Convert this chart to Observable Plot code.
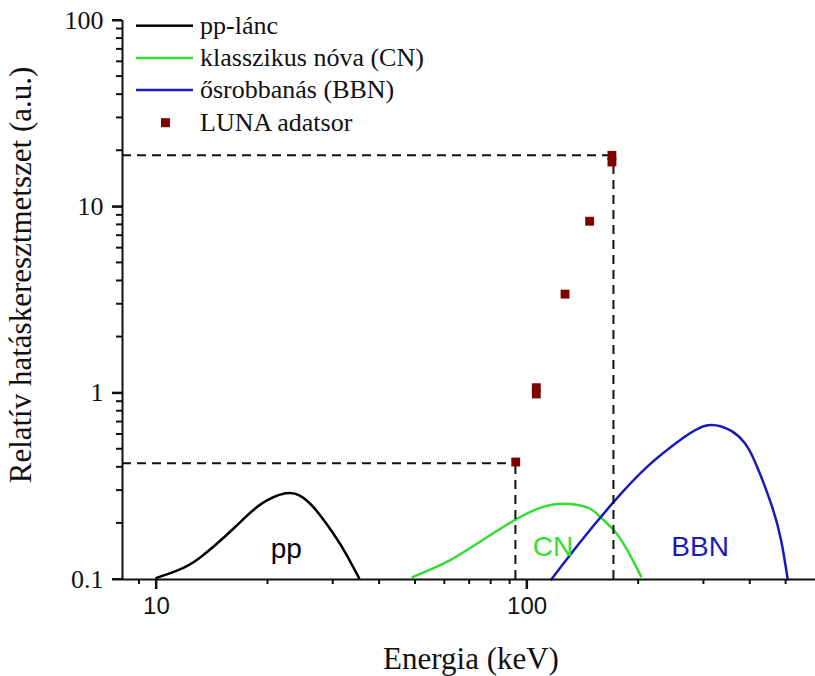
<!DOCTYPE html>
<html>
<head>
<meta charset="utf-8">
<script src="https://cdn.jsdelivr.net/npm/d3@7"></script>
<script src="https://cdn.jsdelivr.net/npm/@observablehq/plot@0.6"></script>
<style>
  html, body { margin: 0; padding: 0; background: white; color: #111; overflow: hidden; }
  #chart { width: 815px; height: 676px; }
</style>
</head>
<body>
<div id="chart"></div>
<script>
// ---- data ----
const xDomain = [8.1, 600];
const yDomain = [0.1, 100];
const xMajorTicks = [10, 100];
const xMinorTicks = [9, 20, 30, 40, 50, 60, 70, 80, 90, 200, 300, 400, 500];
const yMajorTicks = [0.1, 1, 10, 100];
const yMinorTicks = [0.2, 0.3, 0.4, 0.5, 0.6, 0.7, 0.8, 0.9, 2, 3, 4, 5, 6, 7, 8, 9, 20, 30, 40, 50, 60, 70, 80, 90];

const ppEnergy = [10, 11.4, 13.1, 16.2, 19.1, 22.3, 24.3, 26.6, 30.1, 32.5, 35.2];
const ppValue  = [0.102, 0.112, 0.131, 0.189, 0.253, 0.290, 0.283, 0.243, 0.175, 0.137, 0.102];

const cnEnergy = [49.1, 61.1, 75.2, 93.3, 109, 124.7, 145.8, 158.5, 172.2, 187, 203];
const cnValue  = [0.103, 0.125, 0.161, 0.210, 0.243, 0.255, 0.243, 0.214, 0.182, 0.142, 0.104];

const bbnEnergy = [116.2, 139.9, 172.2, 211.8, 260.6, 307.6, 355.6, 385, 411, 456, 485, 505];
const bbnValue  = [0.1, 0.161, 0.264, 0.406, 0.566, 0.673, 0.627, 0.545, 0.433, 0.253, 0.161, 0.1];

const lunaEnergy = [93.2, 105.9, 105.9, 126.6, 147.5, 169.4, 169.4];
const lunaValue  = [0.427, 0.99, 1.07, 3.40, 8.37, 17.4, 18.9];

const guideEnergy = [93.0, 171];
const guideValue  = [0.42, 18.9];

const curveLabels = ["pp", "CN", "BBN"];
const curveLabelEnergy = [22.4, 117.5, 293];
const curveLabelValue = [0.146, 0.15, 0.15];
const curveColors = ["#000000", "#33dd33", "#1a1ab8"];
const lunaColor = "#7f0000";

const legendLabels = ["pp-lánc", "klasszikus nóva (CN)", "ősrobbanás (BBN)", "LUNA adatsor"];

const xTitle = "Energia (keV)";
const yTitle = "Relatív hatáskeresztmetszet (a.u.)";

// ---- build tables ----
const pp = ppEnergy.map((e, i) => ({e, v: ppValue[i]}));
const cn = cnEnergy.map((e, i) => ({e, v: cnValue[i]}));
const bbn = bbnEnergy.map((e, i) => ({e, v: bbnValue[i]}));
const luna = lunaEnergy.map((e, i) => ({e, v: lunaValue[i]}));
const guides = guideEnergy.map((e, i) => ({e, v: guideValue[i]}));

const serif = "'Liberation Serif', 'Times New Roman', serif";
const sans = "'Liberation Sans', Arial, sans-serif";

const plot = Plot.plot({
  width: 815,
  height: 676,
  marginTop: 20,
  marginLeft: 122,
  marginRight: 0,
  marginBottom: 97,
  x: {type: "log", domain: xDomain, label: null},
  y: {type: "log", domain: yDomain, label: null},
  marks: [
    Plot.line(pp, {x: "e", y: "v", curve: "natural", stroke: curveColors[0], strokeWidth: 2.5}),
    Plot.line(cn, {x: "e", y: "v", curve: "natural", stroke: curveColors[1], strokeWidth: 2.5}),
    Plot.line(bbn, {x: "e", y: "v", curve: "natural", stroke: curveColors[2], strokeWidth: 2.5}),
    Plot.ruleY(guides, {y: "v", x1: xDomain[0], x2: "e", strokeWidth: 2, strokeDasharray: "9,6"}),
    Plot.ruleX(guides, {x: "e", y1: yDomain[0], y2: "v", strokeWidth: 2, strokeDasharray: "9,6"}),
    Plot.dot(luna, {x: "e", y: "v", symbol: "square", r: 5, fill: lunaColor}),
    ...curveLabels.map((t, i) => Plot.text([t], {x: [curveLabelEnergy[i]], y: [curveLabelValue[i]], text: d => d,
      fill: curveColors[i], fontSize: 28, fontFamily: sans, textAnchor: "middle", lineAnchor: "middle"})),
    Plot.ruleX([xDomain[0]], {strokeWidth: 2}),
    Plot.ruleY([yDomain[0]], {strokeWidth: 2}),
    Plot.axisX({ticks: xMajorTicks, tickSize: 10, tickPadding: 7, tickFormat: d => String(d), strokeWidth: 2,
                fontFamily: sans, fontSize: 24, label: null}),
    Plot.axisY({ticks: yMajorTicks, tickSize: 10, tickPadding: 9, tickFormat: d => String(d), strokeWidth: 2,
                fontFamily: serif, fontSize: 26, label: null})
  ]
});

document.getElementById("chart").appendChild(plot);

const svg = d3.select(plot);

// ---- tick marks as filled rects, positioned with Plot's own scales ----
const xs = plot.scale("x"), ys = plot.scale("y");
const x0 = xs.apply(xDomain[0]), y0 = ys.apply(yDomain[0]);
const tk = svg.append("g").attr("fill", "#111").attr("stroke", "none");
const xTick = (v, len) => { const px = xs.apply(v);
  tk.append("rect").attr("x", px - 1).attr("y", y0).attr("width", 2).attr("height", len); };
const yTick = (v, len) => { const py = ys.apply(v);
  tk.append("rect").attr("x", x0 - len).attr("y", py - 1).attr("width", len).attr("height", 2); };
xMajorTicks.forEach(v => xTick(v, 10));
xMinorTicks.forEach(v => xTick(v, 5));
yMajorTicks.forEach(v => yTick(v, 10));
yMinorTicks.forEach(v => yTick(v, 6));

// ---- legend & titles ----
const legendRows = [25.7, 58, 90, 122.7];
const lg = svg.append("g").attr("text-anchor", "start");
legendLabels.forEach((t, i) => {
  const y = legendRows[i];
  if (i < 3) {
    lg.append("rect").attr("x", 136).attr("y", y - 1.25).attr("width", 57).attr("height", 2.5).attr("fill", curveColors[i]);
  } else {
    lg.append("rect").attr("x", 161).attr("y", y - 4.5).attr("width", 9).attr("height", 9).attr("fill", lunaColor);
  }
  lg.append("text").attr("x", 200).attr("y", y + 8).attr("text-anchor", "start").text(t)
    .attr("font-family", serif).attr("font-size", 26).attr("fill", "#111");
});

svg.append("text").attr("x", 471).attr("y", 669).attr("text-anchor", "middle")
  .attr("font-family", serif).attr("font-size", 31).attr("fill", "#111").text(xTitle);
svg.append("text").attr("transform", "translate(31,275) rotate(-90)").attr("text-anchor", "middle")
  .attr("font-family", serif).attr("font-size", 31).attr("fill", "#111").text(yTitle);
</script>
</body>
</html>
